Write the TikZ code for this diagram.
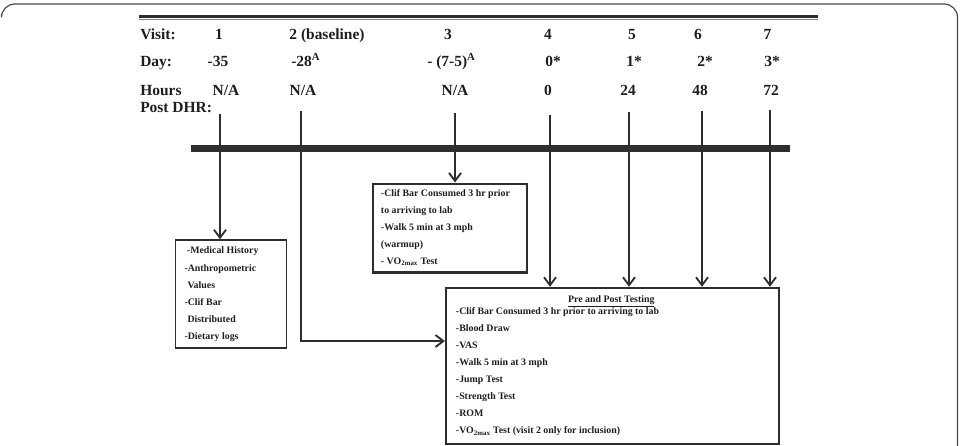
\documentclass[tikz,border=0pt]{standalone}
\usepackage{fontspec}
\setmainfont{Liberation Serif}
\usetikzlibrary{arrows.meta}
\definecolor{ink}{HTML}{1E1E1E}
\definecolor{rule}{HTML}{2E2E2E}
\definecolor{framegray}{HTML}{4A4A4A}
\begin{document}
\begin{tikzpicture}[x=0.75pt,y=-0.75pt,
  hdr/.style={font=\fontsize{11.6}{13}\selectfont\bfseries, text=ink, inner sep=0pt, anchor=base},
  boxtext/.style={font=\fontsize{7.4}{12.8}\selectfont\bfseries, text=ink, inner sep=0pt, align=left, anchor=base west},
  infobox/.style={draw=rule, line width=1.1pt, inner sep=0pt, anchor=north west},
  link/.style={draw=rule, line width=1.4pt, -{Straight Barb[length=6pt,width=9pt]}},
]
\useasboundingbox (0,0) rectangle (961,446);

% outer frame
\draw[framegray, line width=0.9pt, rounded corners=10] (1.5,14) -- (1.5,4) -- (957.5,4) -- (957.5,452);

% heading rules
\draw[rule, line width=2pt] (139,16.3) -- (818,16.3);
\draw[gray, line width=1pt] (139,19.8) -- (818,19.8);

% header rows
\node[hdr, anchor=base west] (visitlbl) at (140,39.5) {Visit:};
\node[hdr] (v1) at (219,39.5) {1};
\node[hdr] (v2) at (327,39.5) {2 (baseline)};
\node[hdr] (v3) at (448,39.5) {3};
\node[hdr] (v4) at (548,39.5) {4};
\node[hdr] (v5) at (632,39.5) {5};
\node[hdr] (v6) at (698,39.5) {6};
\node[hdr] (v7) at (767.5,39.5) {7};

\node[hdr, anchor=base west] (daylbl) at (140,66.5) {Day:};
\node[hdr] (d1) at (218,66.5) {-35};
\node[hdr, anchor=base west] (d2) at (291,66.5) {-28\textsuperscript{A}};
\node[hdr, anchor=base west] (d3) at (427,66.5) {- (7-5)\textsuperscript{A}};
\node[hdr] (d4) at (553,66.5) {0*};
\node[hdr] (d5) at (634,66.5) {1*};
\node[hdr] (d6) at (705,66.5) {2*};
\node[hdr] (d7) at (772,66.5) {3*};

\node[hdr, anchor=base west] (hourlbl) at (140,95.5) {Hours};
\node[hdr, anchor=base west] (postlbl) at (140,112) {Post DHR:};
\node[hdr] (h1) at (226,95.5) {N/A};
\node[hdr] (h2) at (303,95.5) {N/A};
\node[hdr] (h3) at (455,95.5) {N/A};
\node[hdr] (h4) at (548,95.5) {0};
\node[hdr] (h5) at (628,95.5) {24};
\node[hdr] (h6) at (700,95.5) {48};
\node[hdr] (h7) at (771,95.5) {72};

% timeline bar
\draw[rule, line width=5pt] (191,148.3) -- (790,148.3);

% boxes (sizes in pt: pixel size times 0.75)
\node[infobox, minimum width=83.25pt, minimum height=81pt] (box1) at (174.5,239.3) {};
\node[infobox, line width=2.2pt, minimum width=115.5pt, minimum height=66.4pt] (box2) at (371.5,182.5) {};
\node[infobox, line width=1.4pt, minimum width=249.75pt, minimum height=117.4pt] (box3) at (445,286.8) {};

% box contents (anchored at the baseline of the last line)
\node[boxtext] (t1) at (184.3,339.3) {\hspace{1.8pt}-Medical History\\
-Anthropometric\\
\hspace{2.2pt}Values\\
-Clif Bar\\
\hspace{2.2pt}Distributed\\
-Dietary logs};

\node[boxtext] (t2) at (380.7,264.3) {-Clif Bar Consumed 3 hr prior\\
to arriving to lab\\
-Walk 5 min at 3 mph\\
(warmup)\\
- VO\textsubscript{2max} Test};

\node[boxtext, anchor=base] (t3head) at (611.3,302.7) {\underline{Pre and Post Testing}};
\node[boxtext] (t3) at (455.7,433.8) {-Clif Bar Consumed 3 hr prior to arriving to lab\\
-Blood Draw\\
-VAS\\
-Walk 5 min at 3 mph\\
-Jump Test\\
-Strength Test\\
-ROM\\
-VO\textsubscript{2max} Test (visit 2 only for inclusion)};

% connector start points below the header
\coordinate (c1) at (220,114);
\coordinate (c2) at (301,111);
\coordinate (c3) at (455,113);
\coordinate (c4) at (550,115);
\coordinate (c5) at (629,112);
\coordinate (c6) at (702,111);
\coordinate (c7) at (770,110);

% connectors
\draw[link] (c1) -- (c1 |- box1.north);
\draw[link] (c2) |- (box3.west |- 0,341);
\draw[link] (c3) -- (c3 |- box2.north);
\draw[link] (c4) -- (c4 |- box3.north);
\draw[link] (c5) -- (c5 |- box3.north);
\draw[link] (c6) -- (c6 |- box3.north);
\draw[link] (c7) -- (c7 |- box3.north);
\end{tikzpicture}
\end{document}
